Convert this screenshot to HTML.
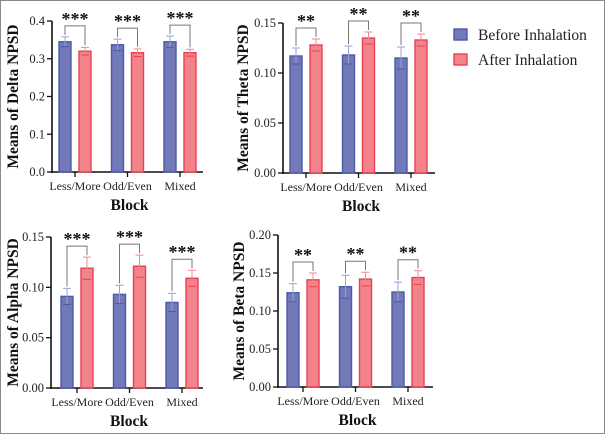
<!DOCTYPE html>
<html><head><meta charset="utf-8"><style>
html,body{margin:0;padding:0;background:#fff}
#wrap{position:relative;width:603px;height:432px;border:1px solid #8a8a8a;overflow:hidden}
svg text{font-family:"Liberation Serif",serif}
</style></head><body>
<div id="wrap">
<svg id="chart" width="603" height="432" viewBox="1 1 603 432"></svg>
</div>
<script>
const categories = ["Less/More","Odd/Even","Mixed"];
const seriesNames = ["Before Inhalation","After Inhalation"];
const deltaBefore = [0.345,0.337,0.345];
const deltaAfter = [0.320,0.316,0.316];
const deltaErrBefore = [0.013,0.015,0.015];
const deltaErrAfter = [0.010,0.010,0.009];
const thetaBefore = [0.117,0.118,0.115];
const thetaAfter = [0.128,0.135,0.133];
const thetaErrBefore = [0.008,0.009,0.011];
const thetaErrAfter = [0.006,0.006,0.006];
const alphaBefore = [0.091,0.093,0.085];
const alphaAfter = [0.119,0.121,0.109];
const alphaErrBefore = [0.008,0.009,0.009];
const alphaErrAfter = [0.011,0.011,0.008];
const betaBefore = [0.124,0.132,0.125];
const betaAfter = [0.141,0.142,0.144];
const betaErrBefore = [0.012,0.015,0.013];
const betaErrAfter = [0.009,0.009,0.009];
const deltaTicks = [0,0.1,0.2,0.3,0.4];
const thetaTicks = [0,0.05,0.10,0.15];
const alphaTicks = [0,0.05,0.10,0.15];
const betaTicks = [0,0.05,0.10,0.15,0.20];
const deltaSig = ["***","***","***"];
const thetaSig = ["**","**","**"];
const alphaSig = ["***","***","***"];
const betaSig = ["**","**","**"];

const NS="http://www.w3.org/2000/svg";
const svg=document.getElementById('chart');
function mk(tag,attrs,parent){const e=document.createElementNS(NS,tag);for(const k in attrs)e.setAttribute(k,attrs[k]);(parent||svg).appendChild(e);return e;}

const panels=[
 {name:'delta',title:'Means of Delta NPSD',x0:52,x1:203,yTop:21,yBot:172,max:0.4,ticks:deltaTicks,dec:1,b:deltaBefore,a:deltaAfter,eb:deltaErrBefore,ea:deltaErrAfter,sig:deltaSig,tx:18,g0:23},
 {name:'theta',title:'Means of Theta NPSD',x0:283,x1:435,yTop:23,yBot:173,max:0.15,ticks:thetaTicks,dec:2,b:thetaBefore,a:thetaAfter,eb:thetaErrBefore,ea:thetaErrAfter,sig:thetaSig,tx:248,g0:23},
 {name:'alpha',title:'Means of Alpha NPSD',x0:51,x1:203,yTop:237,yBot:388,max:0.15,ticks:alphaTicks,dec:2,b:alphaBefore,a:alphaAfter,eb:alphaErrBefore,ea:alphaErrAfter,sig:alphaSig,tx:18,g0:26},
 {name:'beta',title:'Means of Beta NPSD',x0:278,x1:433,yTop:235,yBot:387,max:0.20,ticks:betaTicks,dec:2,b:betaBefore,a:betaAfter,eb:betaErrBefore,ea:betaErrAfter,sig:betaSig,tx:244,g0:25}
];

panels.forEach(p=>{
 const g=mk('g',{});
 
 
 const y=v=>p.yBot-(v/p.max)*(p.yBot-p.yTop);
 const gx=i=>p.x0+p.g0+i*52.5;
 const ya=mk('line',{x1:p.x0,y1:p.yTop,x2:p.x0,y2:p.yBot+1,stroke:'#111','stroke-width':1.6},g);
 
 
 const xa=mk('line',{x1:p.x0-1,y1:p.yBot,x2:p.x1,y2:p.yBot,stroke:'#111','stroke-width':1.6},g);
 
 
 p.ticks.forEach(t=>{
  mk('line',{x1:p.x0-5,y1:y(t),x2:p.x0,y2:y(t),stroke:'#111','stroke-width':1.3},g);
  const tl=mk('text',{x:p.x0-7,y:y(t)+4,'text-anchor':'end','font-size':12.5,fill:'#222'},g);
  tl.textContent=t.toFixed(p.dec);
  
  
 });
 const yt=mk('text',{x:p.tx,y:(p.yTop+p.yBot)/2,'text-anchor':'middle','font-size':15.5,'font-weight':'bold',fill:'#111',transform:`rotate(-90 ${p.tx} ${(p.yTop+p.yBot)/2})`},g);
 yt.textContent=p.title;
 
 
 const xt=mk('text',{x:(p.x0+p.x1)/2+2,y:p.yBot+38,'text-anchor':'middle','font-size':15.5,'font-weight':'bold',fill:'#111'},g);
 xt.textContent='Block';
 
 
 categories.forEach((c,i)=>{
  const cx=gx(i);
  mk('line',{x1:cx,y1:p.yBot,x2:cx,y2:p.yBot+5,stroke:'#111','stroke-width':1.3},g);
  const cl=mk('text',{x:cx,y:p.yBot+18,'text-anchor':'middle','font-size':12,fill:'#222'},g);
  cl.textContent=c;
  
  
  const defs=[[p.b[i],p.eb[i],cx-10,'#7279b9','#4d58a8','#9aa0d4'],[p.a[i],p.ea[i],cx+10,'#f2838b','#e8404f','#f08a92']];
  defs.forEach((d,k)=>{
   const [v,e,bx,fill,st,ec]=d;
   const r=mk('rect',{x:bx-6,y:y(v),width:12,height:p.yBot-y(v),fill:fill,stroke:st,'stroke-width':1.4},g);
   
   
   mk('line',{x1:bx,y1:y(v+e),x2:bx,y2:y(v-e),stroke:ec,'stroke-width':1},g);
   mk('line',{x1:bx-4,y1:y(v+e),x2:bx+4,y2:y(v+e),stroke:ec,'stroke-width':1},g);
   mk('line',{x1:bx-4,y1:y(v-e),x2:bx+4,y2:y(v-e),stroke:st,'stroke-width':1},g);
  });
  const tb=y(p.b[i]+p.eb[i]), ta=y(p.a[i]+p.ea[i]);
  const by=Math.min(tb,ta)-11;
  const br=mk('path',{d:`M${cx-10},${tb-2}V${by}H${cx+10}V${ta-2}`,fill:'none',stroke:'#777','stroke-width':1},g);
  
  
  const s=mk('text',{x:cx,y:by-1,'text-anchor':'middle','font-size':18,'font-weight':'bold',fill:'#111','font-family':'Liberation Sans, sans-serif'},g);
  s.textContent=p.sig[i];
  
  
 });
});
const lg=mk('g',{});


[['#7279b9','#4d58a8',35],['#f2838b','#e8404f',60]].forEach((d,i)=>{
 const r=mk('rect',{x:454,y:d[2]-6,width:13,height:11,fill:d[0],stroke:d[1],'stroke-width':1.4},lg);
 
 
 const t=mk('text',{x:478,y:d[2]+5,'font-size':15.5,fill:'#222'},lg);
 t.textContent=seriesNames[i];
 
 
});
</script>
</body></html>
